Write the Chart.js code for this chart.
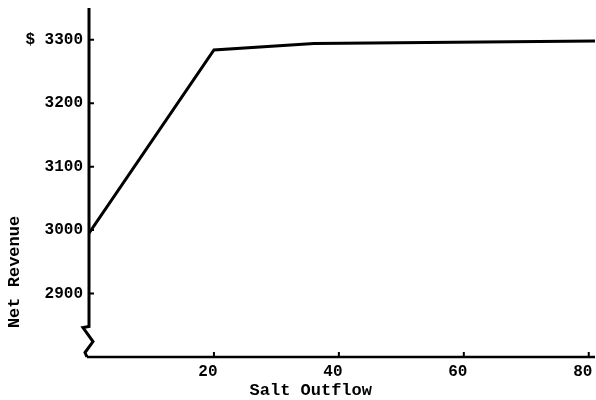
<!DOCTYPE html>
<html>
<head>
<meta charset="utf-8">
<script src="https://cdn.jsdelivr.net/npm/chart.js@4/dist/chart.umd.min.js"></script>
<style>
  body { margin: 0; background: #fff; }
</style>
</head>
<body>
<canvas id="revenueChart" width="596" height="400"></canvas>
<script>
// Net revenue vs salt outflow

const saltOutflow = [0, 20, 36, 81];
const netRevenue = [2995, 3284, 3294, 3298];
const xTicks = [20, 40, 60, 80];
const yTicks = [2900, 3000, 3100, 3200, 3300];

const typeFont = "'Liberation Mono', 'DejaVu Sans Mono', monospace";

// keep the plot box where the reference has it, labels may overhang
function noPadding(scale) {
    scale.paddingTop = 0;
    scale.paddingBottom = 0;
    scale.paddingLeft = 0;
    scale.paddingRight = 0;
}

// axes with inward ticks, a break in the y axis and the two titles
const axesPlugin = {
    id: 'axesPlugin',
    beforeDatasetsDraw(chart) {
        const ctx = chart.ctx;
        const area = chart.chartArea;
        const xs = chart.scales.x;
        const ys = chart.scales.y;
        const breakTop = ys.getPixelForValue(2848);

        ctx.save();
        ctx.strokeStyle = '#000';
        ctx.lineJoin = 'miter';

        // y axis above the break, then the zigzag
        ctx.lineWidth = 3;
        ctx.beginPath();
        ctx.moveTo(area.left, area.top);
        ctx.lineTo(area.left, breakTop);
        ctx.lineTo(area.left - 6, breakTop + 1);
        ctx.lineTo(area.left + 4, breakTop + 15);
        ctx.lineTo(area.left - 4, breakTop + 26);
        ctx.lineTo(area.left - 2, area.bottom);
        ctx.stroke();

        // x axis
        ctx.lineWidth = 2.5;
        ctx.beginPath();
        ctx.moveTo(area.left - 2, area.bottom);
        ctx.lineTo(area.right, area.bottom);
        ctx.stroke();

        // inward tick marks
        ctx.lineWidth = 2;
        ctx.beginPath();
        yTicks.forEach(function (v) {
            const py = ys.getPixelForValue(v);
            ctx.moveTo(area.left, py);
            ctx.lineTo(area.left + 5, py);
        });
        xTicks.forEach(function (v) {
            const px = xs.getPixelForValue(v);
            ctx.moveTo(px, area.bottom);
            ctx.lineTo(px, area.bottom - 5);
        });
        ctx.stroke();
        ctx.restore();
    },
    afterDraw(chart) {
        const ctx = chart.ctx;
        const xs = chart.scales.x;
        const ys = chart.scales.y;

        ctx.save();
        ctx.fillStyle = '#000';
        ctx.font = 'bold 17px ' + typeFont;
        ctx.textAlign = 'center';
        ctx.textBaseline = 'middle';

        ctx.fillText('Salt Outflow', xs.getPixelForValue(35.5), 391);

        ctx.translate(15, ys.getPixelForValue(2934));
        ctx.rotate(-Math.PI / 2);
        ctx.fillText('Net Revenue', 0, 0);
        ctx.restore();
    }
};

new Chart(document.getElementById('revenueChart'), {
    type: 'line',
    data: {
        datasets: [{
            label: 'Net Revenue',
            data: saltOutflow.map(function (x, i) { return { x: x, y: netRevenue[i] }; }),
            borderColor: '#000',
            borderWidth: 3,
            pointRadius: 0,
            tension: 0,
            fill: false
        }]
    },
    options: {
        responsive: false,
        animation: false,
        layout: {
            padding: { top: 8, right: 1, left: 0, bottom: 0 }
        },
        plugins: {
            legend: { display: false },
            tooltip: { enabled: false }
        },
        scales: {
            x: {
                type: 'linear',
                min: 0,
                max: 81,
                grid: { display: false, drawTicks: false },
                border: { display: false },
                afterBuildTicks: function (scale) {
                    scale.ticks = xTicks.map(function (v) { return { value: v }; });
                },
                afterFit: function (scale) {
                    scale.height = 43;
                    noPadding(scale);
                },
                ticks: {
                    color: '#000',
                    padding: 5,
                    labelOffset: -6,
                    maxRotation: 0,
                    font: { family: typeFont, size: 16, weight: 'bold' }
                }
            },
            y: {
                min: 2800,
                max: 3350,
                grid: { display: false, drawTicks: false },
                border: { display: false },
                afterBuildTicks: function (scale) {
                    scale.ticks = yTicks.map(function (v) { return { value: v }; });
                },
                afterFit: function (scale) {
                    scale.width = 89;
                    noPadding(scale);
                },
                ticks: {
                    color: '#000',
                    padding: 6,
                    font: { family: typeFont, size: 16, weight: 'bold' },
                    callback: function (value) {
                        return value === 3300 ? '$ 3300' : String(value);
                    }
                }
            }
        }
    },
    plugins: [axesPlugin]
});
</script>
</body>
</html>
